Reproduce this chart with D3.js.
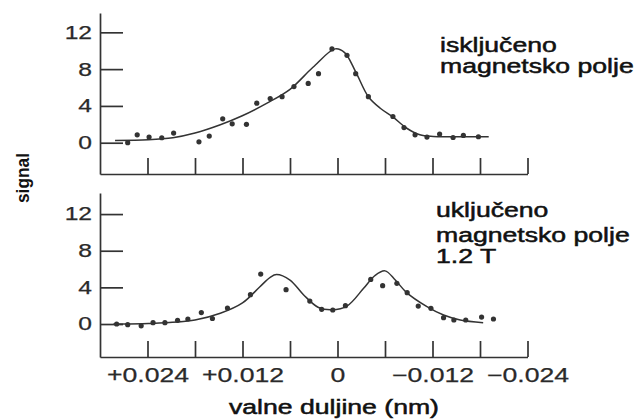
<!DOCTYPE html>
<html lang="hr">
<head>
<meta charset="UTF-8">
<title>signal</title>
<script src="https://cdn.jsdelivr.net/npm/d3@7"></script>
<style>
    body { margin: 0; background: #fff; }
    svg { display: block; }
</style>
</head>
<body>
<script>
    // podaci (valna duljina u nm, signal)
    var xTicks = [0.024, 0.018, 0.012, 0.006, 0, -0.006, -0.012, -0.018, -0.024];
    var xTickLabels = ['+0.024', '', '+0.012', '', '0', '', '\u22120.012', '', '\u22120.024'];
    var yTicks = [0, 4, 8, 12];

    // iskljuceno polje
    var offDotX = [0.0265, 0.0253, 0.0238, 0.0222, 0.0207, 0.0175, 0.0162, 0.0145, 0.0133, 0.0115,
        0.0102, 0.0085, 0.0070, 0.0055, 0.0037, 0.0024, 0.0007, -0.0012, -0.0023, -0.0039,
        -0.0070, -0.0084, -0.0098, -0.0113, -0.0129, -0.0146, -0.0159, -0.0178];
    var offDotY = [0.0, 0.86, 0.61, 0.54, 1.05, 0.1, 0.72, 2.6, 2.05, 2.0,
        4.3, 4.8, 5.0, 6.1, 6.45, 7.5, 10.2, 9.5, 7.5, 5.0,
        2.85, 1.65, 0.86, 0.61, 0.94, 0.57, 0.79, 0.65];
    var offFitX = [0.0281, 0.0239, 0.0208, 0.0180, 0.0148, 0.0121, 0.0089, 0.0060, 0.0031, 0.0003,
        -0.0009, -0.0023, -0.0039, -0.0054, -0.0070, -0.0087, -0.0104, -0.0121, -0.0151, -0.0191];
    var offFitY = [0.25, 0.32, 0.54, 1.05, 1.95, 2.9, 4.3, 5.8, 8.2, 10.2,
        9.8, 7.7, 5.0, 3.75, 2.8, 1.6, 0.86, 0.68, 0.66, 0.66];

    // ukljuceno polje 1.2 T
    var onDotX = [0.0279, 0.0265, 0.0248, 0.0233, 0.0218, 0.0202, 0.0189, 0.0172, 0.0158, 0.0139,
        0.0110, 0.0097, 0.0065, 0.0035, 0.0020, 0.0006, -0.0010, -0.0042, -0.0057, -0.0075,
        -0.0088, -0.0102, -0.0118, -0.0134, -0.0147, -0.0162, -0.0182, -0.0197];
    var onDotY = [0.0, -0.07, -0.2, 0.15, 0.15, 0.4, 0.55, 1.25, 0.6, 1.75,
        3.2, 5.45, 3.75, 2.5, 1.6, 1.53, 2.0, 4.87, 4.18, 4.44,
        3.42, 1.96, 1.71, 0.69, 0.44, 0.44, 0.76, 0.55];
    var onFitX = [0.0283, 0.0239, 0.0180, 0.0148, 0.0120, 0.0098, 0.0085, 0.0077, 0.0060, 0.0043,
        0.0024, 0.0007, -0.0012, -0.0033, -0.0047, -0.0060, -0.0073, -0.0087, -0.0113, -0.0134,
        -0.0155, -0.0184];
    var onFitY = [0.0, 0.05, 0.44, 1.17, 2.3, 4.07, 5.1, 5.4, 4.8, 3.2,
        1.8, 1.55, 1.96, 3.9, 5.27, 5.8, 4.8, 3.46, 1.9, 0.98,
        0.44, 0.15];

    var width = 638,
        height = 420,
        stretch = 1.33,
        font = '"Liberation Sans", Arial, Helvetica, sans-serif',
        ink = '#333';

    var svg = d3.select('body').append('svg')
        .attr('width', width)
        .attr('height', height);

    var x = d3.scaleLinear()
        .domain([0.030, -0.024])
        .range([100, 527.5]);

    // panel: gornji / donji
    var panels = [
        { top: 13, bottom: 174, dom: [-3.4, 14.1], dx: offDotX, dy: offDotY, fx: offFitX, fy: offFitY, labels: false },
        { top: 193, bottom: 357, dom: [-3.6, 14.3], dx: onDotX, dy: onDotY, fx: onFitX, fy: onFitY, labels: true }
    ];

    // tekst razvucen vodoravno kao na slici
    function widen(sel, k) {
        sel.each(function() {
            var L = this.getComputedTextLength();
            d3.select(this).attr('textLength', L * k).attr('lengthAdjust', 'spacingAndGlyphs');
        });
    }

    panels.forEach(function(p) {
        var y = d3.scaleLinear().domain(p.dom).range([p.bottom, p.top]);

        var yAxis = d3.axisLeft(y)
            .tickValues(yTicks)
            .tickSize(-23)
            .tickSizeOuter(0)
            .tickPadding(8);
        var xAxis = d3.axisBottom(x)
            .tickValues(xTicks)
            .tickSize(-16)
            .tickSizeOuter(0)
            .tickPadding(11)
            .tickFormat(function(d, i) { return p.labels ? xTickLabels[i] : ''; });

        var gy = svg.append('g')
            .attr('transform', 'translate(' + x.range()[0] + ',0)')
            .call(yAxis);
        var gx = svg.append('g')
            .attr('transform', 'translate(0,' + p.bottom + ')')
            .call(xAxis);

        [gx, gy].forEach(function(g) {
            g.selectAll('path, line').attr('stroke', ink).attr('stroke-width', 1.7);
            g.selectAll('text').attr('fill', '#2a2a2a').attr('font-family', font)
                .attr('stroke', '#2a2a2a').attr('stroke-width', 0.25);
        });
        gy.selectAll('text').attr('font-size', 18.5).call(widen, stretch);
        gx.selectAll('text').attr('font-size', 20).call(widen, stretch);

        var line = d3.line()
            .x(function(d) { return x(d[0]); })
            .y(function(d) { return y(d[1]); })
            .curve(d3.curveCatmullRom.alpha(0.5));

        svg.append('path')
            .datum(d3.zip(p.fx, p.fy))
            .attr('d', line)
            .attr('fill', 'none')
            .attr('stroke', ink)
            .attr('stroke-width', 1.5);

        svg.append('g').selectAll('circle')
            .data(d3.zip(p.dx, p.dy))
            .enter()
            .append('circle')
            .attr('cx', function(d) { return x(d[0]); })
            .attr('cy', function(d) { return y(d[1]); })
            .attr('r', 2.6)
            .attr('fill', ink);
    });

    // natpisi
    var notes = [
        { x: 440, y: 52, t: 'isključeno' },
        { x: 440, y: 73, t: 'magnetsko polje' },
        { x: 436, y: 217, t: 'uključeno' },
        { x: 436, y: 242, t: 'magnetsko polje' },
        { x: 436, y: 263, t: '1.2 T' }
    ];
    svg.append('g').selectAll('text')
        .data(notes)
        .enter()
        .append('text')
        .attr('x', function(d) { return d.x; })
        .attr('y', function(d) { return d.y; })
        .attr('font-family', font)
        .attr('font-size', 20)
        .attr('fill', '#111')
        .attr('stroke', '#111')
        .attr('stroke-width', 0.5)
        .text(function(d) { return d.t; })
        .call(widen, stretch);

    svg.append('text')
        .attr('x', 334)
        .attr('y', 414)
        .attr('text-anchor', 'middle')
        .attr('font-family', font)
        .attr('font-size', 20)
        .attr('fill', '#111')
        .attr('stroke', '#111')
        .attr('stroke-width', 0.5)
        .text('valne duljine (nm)')
        .call(widen, stretch);

    svg.append('text')
        .attr('transform', 'translate(29,178) rotate(-90)')
        .attr('text-anchor', 'middle')
        .attr('font-family', font)
        .attr('font-size', 18)
        .attr('font-weight', 'bold')
        .attr('fill', '#111')
        .attr('textLength', 50)
        .attr('lengthAdjust', 'spacingAndGlyphs')
        .text('signal');
</script>
</body>
</html>
